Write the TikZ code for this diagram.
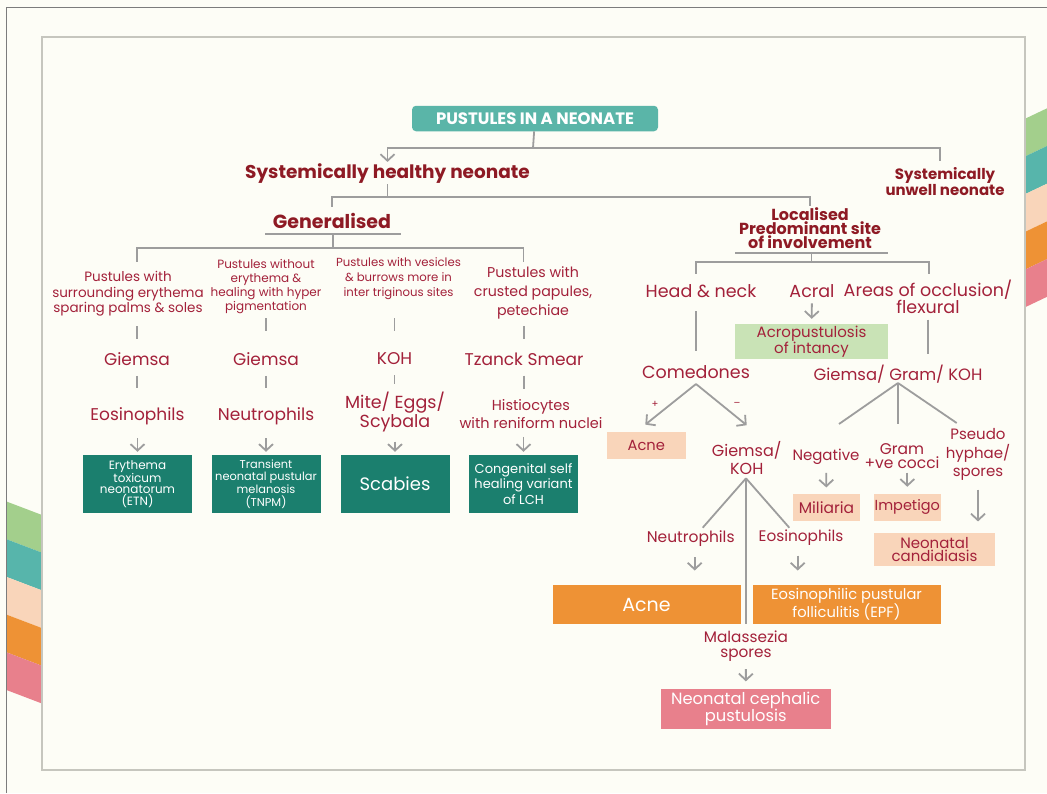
\documentclass[tikz,border=0pt]{standalone}
\usepackage{fontspec}
\setmainfont{Poppins}
\usetikzlibrary{arrows.meta}

\definecolor{paper}{HTML}{FDFDF6}
\definecolor{rimgray}{HTML}{7C7C7C}
\definecolor{framegray}{HTML}{C6C6BE}
\definecolor{linegray}{HTML}{9D9D9D}
\definecolor{txtred}{HTML}{A3213A}
\definecolor{headred}{HTML}{8E1A24}
\definecolor{titleteal}{HTML}{5AB5A8}
\definecolor{darkteal}{HTML}{1B7F6E}
\definecolor{leaf}{HTML}{C9E3B6}
\definecolor{peach}{HTML}{F9D5BA}
\definecolor{amber}{HTML}{EE9235}
\definecolor{rose}{HTML}{E8808C}
\definecolor{stripegreen}{HTML}{A3CF8C}
\definecolor{stripeteal}{HTML}{57B5AB}

\newcommand\fz[2]{\fontsize{#1}{#2}\selectfont}

\tikzset{
  link/.style={draw=linegray, line width=1.8pt},
  arr/.style={link, -{Straight Barb[length=6.5pt,width=14pt,line width=1.8pt]}},
  lbl/.style={text=txtred, align=center, inner sep=0pt},
  head/.style={text=headred, align=center, inner sep=0pt},
  card/.style={align=center, inner sep=0pt},
  tealcard/.style={card, fill=darkteal, text=white, minimum width=109pt, minimum height=58pt},
  peachcard/.style={card, fill=peach, text=txtred},
  ambercard/.style={card, fill=amber, text=white, minimum width=188pt, minimum height=39pt}
}

\begin{document}
\begin{tikzpicture}[x=1pt,y=-1pt]
    \useasboundingbox (0,0) rectangle (1047,793);
    \fill[paper] (0,0) rectangle (1047,793);

    \fill[stripegreen] (7,501.7) -- (42,515) -- (42,552.7) -- (7,539.4) -- cycle; \fill[stripeteal] (7,539.4) -- (42,552.7) -- (42,590.4) -- (7,577.1) -- cycle;
    \fill[peach] (7,577.1) -- (42,590.4) -- (42,628.1) -- (7,614.8) -- cycle; \fill[amber] (7,614.8) -- (42,628.1) -- (42,665.8) -- (7,652.5) -- cycle;
    \fill[rose] (7,652.5) -- (42,665.8) -- (42,703.5) -- (7,690.2) -- cycle;
    \fill[stripegreen] (1026,118.3) -- (1047,108.3) -- (1047,146) -- (1026,156) -- cycle; \fill[stripeteal] (1026,156) -- (1047,146) -- (1047,183.7) -- (1026,193.7) -- cycle;
    \fill[peach] (1026,193.7) -- (1047,183.7) -- (1047,221.4) -- (1026,231.4) -- cycle; \fill[amber] (1026,231.4) -- (1047,221.4) -- (1047,259.1) -- (1026,269.1) -- cycle;
    \fill[rose] (1026,269.1) -- (1047,259.1) -- (1047,296.8) -- (1026,306.8) -- cycle;

    \draw[rimgray, line width=1.5pt] (6.7,793) -- (6.7,7.3) -- (1047,7.3);
    \draw[framegray, line width=2pt] (41.7,36.7) rectangle (1025,770);

    \node[card, fill=titleteal, text=white, rounded corners=4pt, minimum width=246pt, minimum height=25.5pt, font=\bfseries\fz{16.5}{18}] (title) at (535,118.5) {PUSTULES IN A NEONATE};
    \node[head, font=\bfseries\fz{18.5}{20}] (healthy) at (387.5,174) {Systemically healthy neonate};
    \node[head, font=\bfseries\fz{15}{15}] (unwell) at (945,182) {Systemically\\unwell neonate};
    \node[head, font=\bfseries\fz{19}{20}] (gen) at (332,220.5) {Generalised};
    \node[head, font=\bfseries\fz{16}{14}] (local) at (810,228) {Localised\\Predominant site\\of involvement};

    \coordinate (tfork) at (533,148);
    \draw[link] (title) -- (tfork);
    \draw[arr, shorten >=2pt] (tfork) -| (healthy);
    \draw[link] (tfork) -| ([xshift=-5pt,yshift=7pt]unwell.north);
    \coordinate (hfork) at (387.5,197);
    \draw[link] (healthy) -- (hfork);
    \draw[link] (hfork) -| ([yshift=6pt]gen.north);
    \draw[link] (hfork) -| ([yshift=1pt]local.north);

    \coordinate (gbar) at (333,234);
    \draw[link] ([xshift=-68pt]gbar) -- ([xshift=68pt]gbar);
    \coordinate (gfork) at (333,248);
    \draw[link] (gbar) -- (gfork);
    \coordinate (c1) at (137,262); \coordinate (c4) at (523.5,262);
    \draw[link] (gfork) -| (c1); \draw[link] (gfork) -| (c4);

    \node[lbl, font=\fz{13.5}{15.5}] (p1) at (128,293.7) {Pustules with\\surrounding erythema\\sparing palms \& soles};
    \node[lbl, font=\fz{12}{14}] (p2) at (266,287) {Pustules without\\erythema \&\\healing with hyper\\pigmentation};
    \node[lbl, font=\fz{11.7}{15}] (p3) at (398.5,279) {Pustules with vesicles\\\& burrows more in\\inter triginous sites};
    \node[lbl, font=\fz{14.2}{19}] (p4) at (533,293) {Pustules with\\crusted papules,\\petechiae};

    \node[lbl, font=\fz{17}{20}] (g1) at (137,359) {Giemsa};
    \node[lbl, font=\fz{17}{20}] (g2) at (266,359) {Giemsa};
    \node[lbl, font=\fz{17}{20}] (g3) at (394.5,359) {KOH};
    \node[lbl, font=\fz{17}{20}] (g4) at (524,359) {Tzanck Smear};

    \node[lbl, font=\fz{17}{20}] (r1) at (137.5,416) {Eosinophils};
    \node[lbl, font=\fz{17}{20}] (r2) at (266,416) {Neutrophils};
    \node[lbl, font=\fz{17.5}{16}] (r3) at (395,412) {Mite/ Eggs/\\Scybala};
    \node[lbl, font=\fz{14.5}{18}] (r4) at (531,414) {Histiocytes\\with reniform nuclei};

    \node[tealcard, font=\fz{12}{11.7}] (etn) at (137.5,484) {Erythema\\toxicum\\neonatorum\\(ETN)};
    \node[tealcard, font=\fz{11.4}{12.7}] (tnpm) at (266,484) {Transient\\neonatal pustular\\melanosis\\(TNPM)};
    \node[tealcard, font=\fz{18}{20}] (scab) at (395,484) {Scabies};
    \node[tealcard, font=\fz{13}{15.5}] (lch) at (523.5,484) {Congenital self\\healing variant\\of LCH};

    \draw[link, shorten <=10pt, shorten >=13.7pt] (p1.south -| g1) -- (g1);
    \draw[link, shorten <=4pt, shorten >=21.7pt] (p2) -- (g2);
    \draw[link, shorten <=18pt, shorten >=21.7pt] (p3.south -| g3) -- (g3);
    \draw[link, shorten <=7pt, shorten >=13.7pt] (p4.south -| g4) -- (g4);
    \draw[link, shorten <=10pt, shorten >=19.5pt] (g1) -- (g1 |- r1.north);
    \draw[link, shorten <=10pt, shorten >=19.5pt] (g2) -- (r2);
    \draw[link, shorten <=10pt, shorten >=7.5pt] (g3) -- (g3 |- r3.north);
    \draw[link, shorten <=10pt, shorten >=10pt] (g4) -- (g4 |- r4.north);
    \draw[arr, shorten <=13.5pt, shorten >=3pt] (r1) -- (etn);
    \draw[arr, shorten <=13.5pt, shorten >=3pt] (r2) -- (tnpm);
    \draw[arr, shorten <=9.5pt, shorten >=3pt] (r3) -- (scab);
    \draw[arr, shorten <=8pt, shorten >=3pt] (r4.south -| lch) -- (lch);

    \coordinate (lbar) at (811.5,253);
    \draw[link] ([xshift=-76.5pt]lbar) -- ([xshift=76.5pt]lbar);
    \coordinate (lfork) at (811.5,262);
    \draw[link] (lbar) -- (lfork);
    \coordinate (hnd) at (696,274); \coordinate (occd) at (929,274);
    \draw[link] (lfork) -| (hnd); \draw[link] (lfork) -| (occd);

    \node[lbl, font=\fz{17.5}{20}] (hn) at (701,291) {Head \& neck};
    \node[lbl, font=\fz{17.5}{20}] (acral) at (812,291) {Acral};
    \node[lbl, font=\fz{17.5}{14}] (occl) at (928,297) {Areas of occlusion/\\flexural};
    \node[card, fill=leaf, text=txtred, minimum width=153pt, minimum height=35pt, font=\fz{15}{15}] (acro) at (811.5,341.5) {Acropustulosis\\of intancy};
    \node[lbl, font=\fz{17.5}{20}] (com) at (696,372) {Comedones};
    \node[lbl, font=\fz{16.4}{20}] (ggk) at (898,374) {Giemsa/ Gram/ KOH};

    \draw[arr, shorten <=5.5pt, shorten >=5pt] (acral) -- (acro);
    \draw[link, shorten <=13.5pt, shorten >=14.5pt] (com |- hn.south) -- (com);
    \draw[link, shorten <=5.5pt, shorten >=11pt] (occl) -- (occl |- ggk.north);

    \node[lbl, font=\fz{10}{12}] (plus) at (655,404) {+};
    \node[lbl, font=\fz{10}{12}] (minus) at (737,404) {–};
    \node[peachcard, minimum width=79pt, minimum height=27pt, font=\fz{14.7}{16}] (acneP) at (646.3,445.3) {Acne};
    \node[lbl, font=\fz{16}{18}] (gk) at (746.7,458) {Giemsa/\\KOH};
    \node[lbl, font=\fz{15}{18}] (neg) at (826,457) {Negative};
    \node[lbl, font=\fz{15.5}{14}] (gram) at (902,456) {Gram\\+ve cocci};
    \node[lbl, font=\fz{15}{18.5}] (pseudo) at (978,454.5) {Pseudo\\hyphae/\\spores};
    \node[peachcard, minimum width=67pt, minimum height=26.7pt, font=\fz{15.5}{16}] (mil) at (826.5,507.3) {Miliaria};
    \node[peachcard, minimum width=66.7pt, minimum height=26.7pt, font=\fz{14.5}{16}] (imp) at (907.3,507.3) {Impetigo};
    \node[peachcard, minimum width=121pt, minimum height=33.3pt, font=\fz{15}{13.3}] (cand) at (934.5,549.3) {Neonatal\\candidiasis};

    \coordinate (cfork) at (696,384);
    \draw[arr] (cfork) -- ([xshift=-1pt,yshift=7pt]acneP.north);
    \draw[arr] (cfork) -- ([yshift=16pt]gk.north);
    \coordinate (gsplit) at (898,383);
    \coordinate (gneg) at (839,424); \coordinate (ggram) at (898,424); \coordinate (gpse) at (956.7,423);
    \draw[link] (gsplit) -- (gneg); \draw[link] (gsplit) -- (ggram); \draw[link] (gsplit) -- (gpse);
    \draw[arr, shorten <=8pt, shorten >=6.3pt] (neg) -- (mil);
    \draw[arr, shorten <=4pt, shorten >=7pt] (gram.south -| imp) -- (imp);
    \draw[arr, shorten <=9pt, shorten >=11pt] (pseudo) -- (pseudo |- cand.north);

    \node[lbl, font=\fz{15.5}{18}] (neut) at (690.7,539) {Neutrophils};
    \node[lbl, font=\fz{15.3}{18}] (eos) at (801,537.5) {Eosinophils};
    \node[ambercard, font=\fz{19}{20}] (acneO) at (646.5,604.5) {Acne};
    \node[ambercard, font=\fz{14.7}{18}] (epf) at (846.5,604.5) {Eosinophilic pustular\\folliculitis (EPF)};
    \node[lbl, font=\fz{15.3}{15.3}] (mal) at (746,646.5) {Malassezia\\spores};
    \node[card, fill=rose, text=white, minimum width=170pt, minimum height=40.3pt, font=\fz{16.3}{15.6}] (cph) at (745.7,709) {Neonatal cephalic\\pustulosis};

    \coordinate (kfork) at (746,478.3);
    \coordinate (kneu) at (702.7,527.7); \coordinate (keos) at (789.3,527.7);
    \draw[link] (kfork) -- (kneu); \draw[link] (kfork) -- (keos);
    \draw[link] (kfork) -- (kfork |- acneO.south);
    \draw[arr, shorten <=10pt, shorten >=14.3pt] ([xshift=4pt]neut.south) -- ([xshift=4pt]neut.south |- acneO.north);
    \draw[arr, shorten <=10pt, shorten >=14.3pt] ([xshift=-3.3pt]eos.south) -- ([xshift=-3.3pt]eos.south |- epf.north);
    \draw[arr, shorten <=7pt, shorten >=7.3pt] (mal) -- (cph);

\end{tikzpicture}
\end{document}
